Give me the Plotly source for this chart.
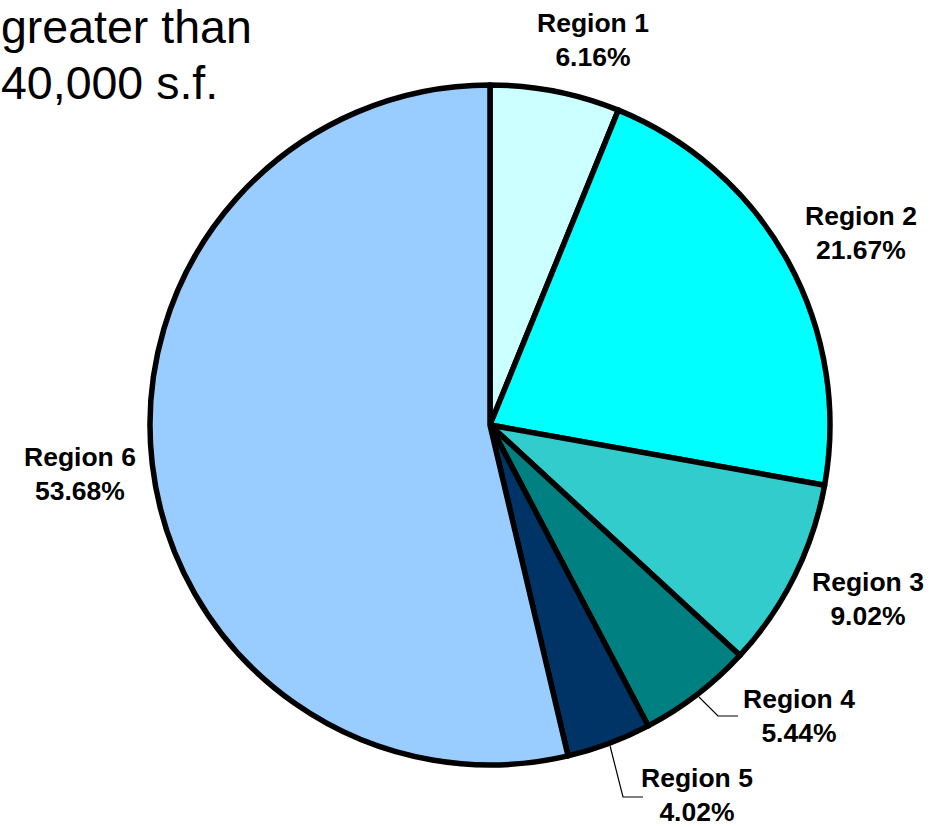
import math
import plotly.graph_objects as go

# Share of floor space greater than 40,000 s.f. by region
regions = ["Region 1", "Region 2", "Region 3", "Region 4", "Region 5", "Region 6"]
shares = [6.16, 21.67, 9.02, 5.44, 4.02, 53.68]
colors = ["#CCFFFF", "#00FFFF", "#33CCCC", "#008080", "#003366", "#99CCFF"]
title_lines = ["greater than", "40,000 s.f."]

W, H = 946, 827
CX, CY, R = 490, 425, 340  # pie centre and radius in pixels (from top-left)

# label block centres (pixels, top-left origin)
label_pos = {
    "Region 1": (593, 40),
    "Region 2": (861, 233),
    "Region 3": (868, 599),
    "Region 4": (799, 716),
    "Region 5": (697, 795),
    "Region 6": (80, 474),
}
# elbow and end of the leader lines for small slices
leaders = {
    "Region 4": [(718, 716), (738, 716)],
    "Region 5": [(623, 797), (643, 797)],
}


def px(x):
    return x / W


def py(y):
    return 1 - y / H


fig = go.Figure(
    go.Pie(
        labels=regions,
        values=shares,
        sort=False,
        direction="clockwise",
        rotation=0,
        marker=dict(colors=colors, line=dict(color="#000000", width=5.5)),
        textinfo="none",
        hovertemplate="%{label}: %{value:.2f}%<extra></extra>",
        showlegend=False,
        domain=dict(x=[px(CX - R), px(CX + R)], y=[py(CY + R), py(CY - R)]),
    )
)

annotations = []
shapes = []
total = sum(shares)
cum = 0.0
for name, val in zip(regions, shares):
    mid = (cum + val / 2) / total * 2 * math.pi
    cum += val
    lx, ly = label_pos[name]
    annotations.append(
        dict(
            x=px(lx), y=py(ly), xref="paper", yref="paper",
            text=f"<b>{name}</b><br><b>{val:.2f}%</b>",
            showarrow=False, xanchor="center", yanchor="middle",
            font=dict(family="Arial, Liberation Sans, sans-serif", size=26.5, color="#000000"),
        )
    )
    if name in leaders:
        sx = CX + (R + 3) * math.sin(mid)
        sy = CY - (R + 3) * math.cos(mid)
        pts = [(sx, sy)] + leaders[name]
        path = "M " + " L ".join(f"{px(x)},{py(y)}" for x, y in pts)
        shapes.append(
            dict(type="path", path=path, xref="paper", yref="paper",
                 line=dict(color="#000000", width=1.2))
        )

# two-line heading in the top-left corner
for i, line in enumerate(title_lines):
    annotations.append(
        dict(
            x=0, y=py(0 + 56 * i), xref="paper", yref="paper",
            text=line,
            showarrow=False, xanchor="left", yanchor="top", align="left",
            xshift=-1, yshift=1,
            font=dict(family="Arial, Liberation Sans, sans-serif", size=46.5, color="#000000"),
        )
    )

fig.update_layout(
    width=W, height=H,
    margin=dict(l=0, r=0, t=0, b=0),
    paper_bgcolor="#FFFFFF",
    plot_bgcolor="#FFFFFF",
    annotations=annotations,
    shapes=shapes,
)

fig.write_html("out.html")
